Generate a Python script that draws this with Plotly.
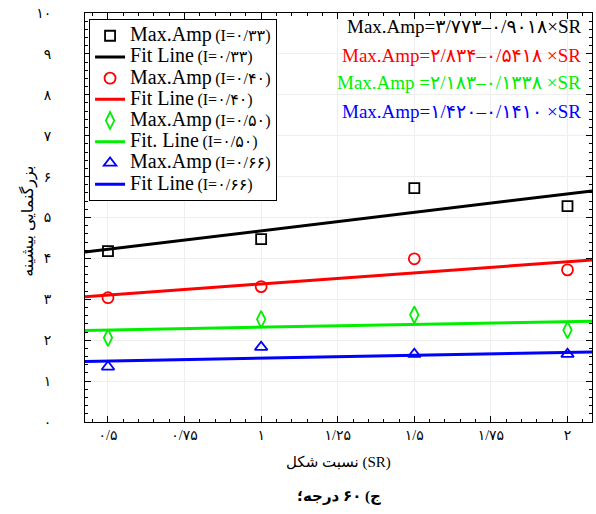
import plotly.graph_objects as go

# Shape ratio values at which the amplification was measured
sr_values = [0.5, 1.0, 1.5, 2.0]

# Maximum amplification for each opening ratio I
amp_i033 = [4.18, 4.47, 5.72, 5.28]
amp_i040 = [3.04, 3.31, 3.99, 3.72]
amp_i050 = [2.06, 2.51, 2.62, 2.25]
amp_i066 = [1.35, 1.83, 1.66, 1.66]

# Linear fit coefficients: Max.Amp = intercept + slope * SR
intercepts = [3.773, 2.834, 2.183, 1.420]
slopes = [0.9018, 0.5418, 0.1338, 0.1410]

series_names = ["۰/۳۳", "۰/۴۰", "۰/۵۰", "۰/۶۶"]
fit_labels = ["Fit Line", "Fit Line", "Fit. Line", "Fit Line"]
equations = [
    "Max.Amp=۳/۷۷۳–۰/۹۰۱۸×SR",
    "Max.Amp=۲/۸۳۴–۰/۵۴۱۸ ×SR",
    "Max.Amp =۲/۱۸۳–۰/۱۳۳۸ ×SR",
    "Max.Amp=۱/۴۲۰–۰/۱۴۱۰ ×SR",
]

x_range = [0.425, 2.08]
x_tickvals = [0.5, 0.75, 1.0, 1.25, 1.5, 1.75, 2.0]
x_ticktext = ["۰/۵", "۰/۷۵", "۱", "۱/۲۵", "۱/۵", "۱/۷۵", "۲"]
y_tickvals = list(range(0, 11))
y_ticktext = ["۰", "۱", "۲", "۳", "۴", "۵", "۶", "۷", "۸", "۹", "۱۰"]

# Persian titles
x_title = "نسبت شکل (SR)"
caption = "ج) ۶۰ درجه؛"
y_title = "بزرگنمایی بیشینه"

colors = ["#000000", "#ff0000", "#00ee00", "#0000ff"]
symbols = ["square-open", "circle-open", "diamond-tall-open", "triangle-up-open"]
marker_sizes = [10, 11, 12, 11]

SERIF = "Liberation Serif, DejaVu Serif, DejaVu Sans"


def legend_label(head, ratio):
    return (f"<span style='font-size:20px'>{head}</span> "
            f"<span style='font-size:16px'>(I={ratio})</span>")


fig = go.Figure()
all_amps = [amp_i033, amp_i040, amp_i050, amp_i066]
for amps, b, m, name, flabel, col, sym, ms in zip(
    all_amps, intercepts, slopes, series_names, fit_labels, colors, symbols, marker_sizes
):
    fig.add_trace(go.Scatter(
        x=sr_values, y=amps, mode="markers",
        name=legend_label("Max.Amp", name),
        marker=dict(symbol=sym, size=ms, color=col, line=dict(width=1.8, color=col)),
    ))
    fit_x = x_range
    fit_y = [b + m * xv for xv in fit_x]
    fig.add_trace(go.Scatter(
        x=fit_x, y=fit_y, mode="lines",
        name=legend_label(flabel, name),
        line=dict(color=col, width=3),
    ))

annotations = []
eq_rows = [0.966, 0.897, 0.831, 0.758]
for text, col, yy in zip(equations, colors, eq_rows):
    annotations.append(dict(
        text=text, xref="paper", yref="paper", x=0.982, y=yy,
        xanchor="right", yanchor="middle", showarrow=False,
        font=dict(family=SERIF, size=19, color=col),
    ))

annotations += [
    dict(text=x_title, xref="paper", yref="paper", x=0.5, y=-0.100,
         xanchor="center", yanchor="middle", showarrow=False,
         font=dict(family=SERIF, size=15, color="#000")),
    dict(text=f"<b>{caption}</b>", xref="paper", yref="paper", x=0.5, y=-0.183,
         xanchor="center", yanchor="middle", showarrow=False,
         font=dict(family=SERIF, size=15, color="#000")),
    dict(text=y_title, xref="paper", yref="paper", x=-0.114, y=0.49,
         xanchor="center", yanchor="middle", showarrow=False, textangle=-90,
         font=dict(family=SERIF, size=16, color="#000")),
]

axis_common = dict(
    showline=True, linecolor="#000", linewidth=1, mirror="ticks",
    ticks="inside", ticklen=6, tickcolor="#000", tickwidth=1,
    showgrid=True, gridcolor="#eeeeee", gridwidth=1, zeroline=False,
    tickfont=dict(family=SERIF, size=14, color="#000"),
)

fig.update_layout(
    width=596, height=514,
    margin=dict(l=85, r=4, t=13, b=92),
    paper_bgcolor="white", plot_bgcolor="white",
    xaxis=dict(range=x_range, tickmode="array", tickvals=x_tickvals, ticktext=x_ticktext,
               minor=dict(dtick=0.05, ticks="inside", ticklen=3, tickcolor="#000", showgrid=False),
               **axis_common),
    yaxis=dict(range=[0, 10], tickmode="array", tickvals=y_tickvals, ticktext=y_ticktext,
               ticklabelstandoff=30,
               minor=dict(dtick=0.2, ticks="inside", ticklen=3, tickcolor="#000", showgrid=False),
               **axis_common),
    legend=dict(x=0.008, y=0.985, xanchor="left", yanchor="top",
                bgcolor="white", bordercolor="#000", borderwidth=1,
                font=dict(family=SERIF, size=14, color="#000"),
                tracegroupgap=0, itemwidth=30),
    annotations=annotations,
    showlegend=True,
)

fig.write_html("out.html")
